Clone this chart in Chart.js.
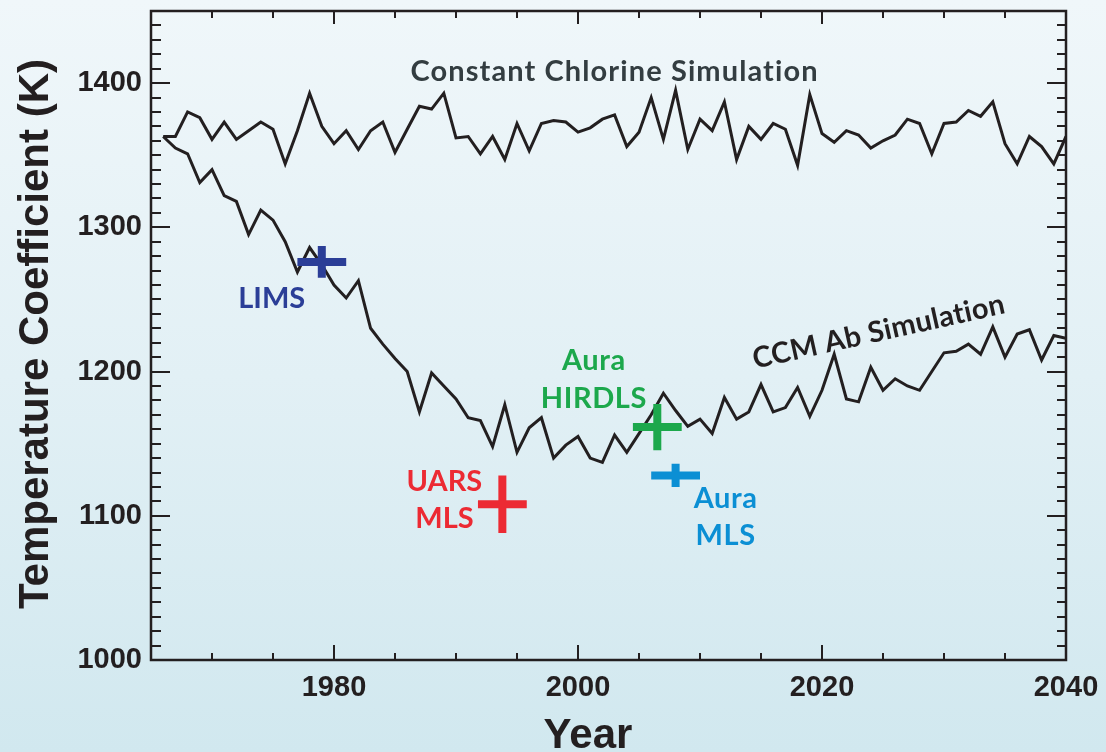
<!DOCTYPE html>
<html>
<head>
<meta charset="utf-8">
<script src="https://cdn.jsdelivr.net/npm/chart.js@4.4.1/dist/chart.umd.min.js"></script>
<style>
  html, body { margin: 0; padding: 0; }
  #wrap {
    width: 1106px; height: 752px; position: relative;
    background: linear-gradient(to bottom, #f0f7fa 0%, #e2f0f5 50%, #d1e8ef 100%);
  }
</style>
</head>
<body>
<div id="wrap"><canvas id="chart"></canvas></div>
<script>
// Model years
const years = [
  1966, 1967, 1968, 1969, 1970, 1971, 1972, 1973, 1974, 1975,
  1976, 1977, 1978, 1979, 1980, 1981, 1982, 1983, 1984, 1985,
  1986, 1987, 1988, 1989, 1990, 1991, 1992, 1993, 1994, 1995,
  1996, 1997, 1998, 1999, 2000, 2001, 2002, 2003, 2004, 2005,
  2006, 2007, 2008, 2009, 2010, 2011, 2012, 2013, 2014, 2015,
  2016, 2017, 2018, 2019, 2020, 2021, 2022, 2023, 2024, 2025,
  2026, 2027, 2028, 2029, 2030, 2031, 2032, 2033, 2034, 2035,
  2036, 2037, 2038, 2039, 2040
];

// Temperature coefficient (K), constant-chlorine run
const constantChlorine = [
  1363, 1363, 1380, 1376, 1361, 1373, 1361, 1367, 1373, 1368,
  1344, 1367, 1393, 1370, 1358, 1367, 1354, 1367, 1373, 1352,
  1368, 1384, 1382, 1393, 1362, 1363, 1351, 1363, 1347, 1372,
  1353, 1372, 1374, 1373, 1366, 1369, 1375, 1378, 1356, 1366,
  1390, 1361, 1395, 1354, 1375, 1367, 1387, 1347, 1370, 1361,
  1372, 1368, 1343, 1392, 1365, 1359, 1367, 1364, 1355, 1360,
  1364, 1375, 1372, 1351, 1372, 1373, 1381, 1377, 1387, 1358,
  1344, 1363, 1356, 1344, 1363
];

// Temperature coefficient (K), CCM Ab run
const ccmAb = [
  1363, 1355, 1351, 1331, 1340, 1322, 1318, 1295, 1312, 1305,
  1290, 1269, 1286, 1274, 1260, 1251, 1263, 1230, 1219, 1209,
  1200, 1172, 1199, 1190, 1181, 1168, 1166, 1148, 1177, 1144,
  1161, 1168, 1140, 1149, 1155, 1140, 1137, 1156, 1144, 1157,
  1170, 1185, 1173, 1162, 1167, 1157, 1182, 1167, 1172, 1191,
  1172, 1175, 1189, 1169, 1187, 1212, 1181, 1179, 1203, 1187,
  1195, 1190, 1187, 1200, 1213, 1214, 1219, 1212, 1231, 1210,
  1226, 1229, 1208, 1225, 1223
];

// Satellite estimates with uncertainty ranges
const obsNames = ['LIMS', 'UARS MLS', 'Aura HIRDLS', 'Aura MLS'];
const obsYear = [1979, 1993.8, 2006.5, 2008];
const obsYearErr = [2, 2, 2, 2];
const obsValue = [1276, 1108, 1161.5, 1128];
const obsValueErr = [11, 20, 16, 8];

// Axis ranges and labelled ticks
const xRange = [1965, 2040];
const yRange = [1000, 1450];
const xTickValues = [1980, 2000, 2020, 2040];
const yTickValues = [1000, 1100, 1200, 1300, 1400];

// Styling
const ink = '#231f20';
const obsColors = ['#2b3e97', '#ec2a33', '#1ca84c', '#0b8fd4'];
const axisFont = '"Liberation Sans", Arial, Helvetica, sans-serif';
const noteFont = 'Lato, "Open Sans", sans-serif';

// Text annotations, anchored in data coordinates (year, K)
const notes = [
  { lines: ['Constant Chlorine Simulation'], x: 2003.0, y: [1401.6], color: '#333d41', spacing: 1.1 },
  { lines: ['LIMS'], x: 1974.9, y: [1244.4], color: obsColors[0], spacing: 0 },
  { lines: ['UARS', 'MLS'], x: 1989.05, y: [1116.9, 1091.5], color: obsColors[1], spacing: 0 },
  { lines: ['Aura', 'HIRDLS'], x: 2001.3, y: [1201.4, 1175.0], color: obsColors[2], spacing: 0.6 },
  { lines: ['Aura', 'MLS'], x: 2012.1, y: [1105.3, 1079.9], color: obsColors[3], spacing: 0.6 }
];
const slantedNote = { text: 'CCM Ab Simulation', x: 2024.65, y: 1227.6, angle: -12.5, color: ink, spacing: 0.3 };

const lineData = vals => years.map((yr, i) => ({ x: yr, y: vals[i] }));

// Each estimate becomes a cross: horizontal bar, gap, vertical bar
const crossData = i => [
  { x: obsYear[i] - obsYearErr[i], y: obsValue[i] },
  { x: obsYear[i] + obsYearErr[i], y: obsValue[i] },
  { x: obsYear[i], y: null },
  { x: obsYear[i], y: obsValue[i] - obsValueErr[i] },
  { x: obsYear[i], y: obsValue[i] + obsValueErr[i] }
];

const datasets = [
  {
    label: 'Constant Chlorine Simulation', data: lineData(constantChlorine),
    borderColor: ink, borderWidth: 3, pointRadius: 0, tension: 0,
    borderJoinStyle: 'miter', order: 2
  },
  {
    label: 'CCM Ab Simulation', data: lineData(ccmAb),
    borderColor: ink, borderWidth: 3, pointRadius: 0, tension: 0,
    borderJoinStyle: 'miter', order: 2
  }
].concat(obsNames.map((name, i) => ({
  label: name, data: crossData(i),
  borderColor: obsColors[i], borderWidth: 8, borderCapStyle: 'butt',
  pointRadius: 0, spanGaps: false, order: 1
})));

// Frame, inward ticks on all four sides, axis titles and annotations
const decorations = {
  id: 'decorations',
  afterDatasetsDraw(chart) {
    const { ctx, chartArea: a, scales: { x, y } } = chart;
    ctx.save();
    ctx.strokeStyle = ink;
    ctx.lineCap = 'butt';

    ctx.lineWidth = 2;
    ctx.beginPath();
    for (let v = xRange[0] + 5; v < xRange[1]; v += 5) {
      const px = Math.round(x.getPixelForValue(v));
      const major = v % 20 === 0;
      ctx.moveTo(px, a.bottom); ctx.lineTo(px, a.bottom - (major ? 15 : 7));
      ctx.moveTo(px, a.top); ctx.lineTo(px, a.top + (major ? 13 : 7));
    }
    for (let v = yRange[0] + 10; v < yRange[1]; v += 10) {
      const py = Math.round(y.getPixelForValue(v));
      const major = v % 100 === 0;
      ctx.moveTo(a.left, py); ctx.lineTo(a.left + (major ? 19 : 10), py);
      ctx.moveTo(a.right, py); ctx.lineTo(a.right - (major ? 19 : 9), py);
    }
    ctx.stroke();

    ctx.lineWidth = 2.5;
    ctx.strokeRect(a.left, a.top, a.right - a.left, a.bottom - a.top);

    // Axis titles
    ctx.fillStyle = ink;
    ctx.font = 'bold 42px ' + axisFont;
    ctx.textAlign = 'center';
    ctx.textBaseline = 'alphabetic';
    ctx.fillText('Year', 588, 748);
    ctx.save();
    ctx.translate(48, 334);
    ctx.rotate(-Math.PI / 2);
    ctx.fillText('Temperature Coefficient (K)', 0, 0);
    ctx.restore();

    // Annotations
    ctx.font = 'bold 29px ' + noteFont;
    notes.forEach(n => {
      ctx.fillStyle = n.color;
      ctx.letterSpacing = n.spacing + 'px';
      n.lines.forEach((t, k) => {
        ctx.fillText(t, x.getPixelForValue(n.x), y.getPixelForValue(n.y[k]));
      });
    });
    ctx.save();
    ctx.fillStyle = slantedNote.color;
    ctx.letterSpacing = slantedNote.spacing + 'px';
    ctx.translate(x.getPixelForValue(slantedNote.x), y.getPixelForValue(slantedNote.y));
    ctx.rotate(slantedNote.angle * Math.PI / 180);
    ctx.textBaseline = 'middle';
    ctx.fillText(slantedNote.text, 0, 0);
    ctx.restore();

    ctx.restore();
  }
};

new Chart(document.getElementById('chart'), {
  type: 'line',
  data: { datasets },
  options: {
    responsive: true,
    maintainAspectRatio: false,
    animation: false,
    layout: { padding: { left: 0, top: 11, right: 40, bottom: 0 } },
    plugins: { legend: { display: false }, tooltip: { enabled: false } },
    scales: {
      x: {
        type: 'linear', position: 'bottom', min: xRange[0], max: xRange[1],
        afterBuildTicks: s => { s.ticks = xTickValues.map(v => ({ value: v })); },
        afterFit: s => { s.height = 92; s.paddingLeft = 0; s.paddingRight = 0; },
        grid: { display: false, drawTicks: false },
        border: { display: false },
        ticks: {
          padding: 11, color: ink, maxRotation: 0, autoSkip: false,
          font: { family: axisFont, size: 29, weight: 'bold' },
          callback: v => String(v)
        }
      },
      y: {
        type: 'linear', position: 'left', min: yRange[0], max: yRange[1],
        afterBuildTicks: s => { s.ticks = yTickValues.map(v => ({ value: v })); },
        afterFit: s => { s.width = 151; s.paddingTop = 0; s.paddingBottom = 0; },
        grid: { display: false, drawTicks: false },
        border: { display: false },
        ticks: {
          padding: 9, color: ink, autoSkip: false,
          font: { family: axisFont, size: 29, weight: 'bold' },
          callback: v => String(v)
        }
      }
    }
  },
  plugins: [decorations]
});
</script>
</body>
</html>
